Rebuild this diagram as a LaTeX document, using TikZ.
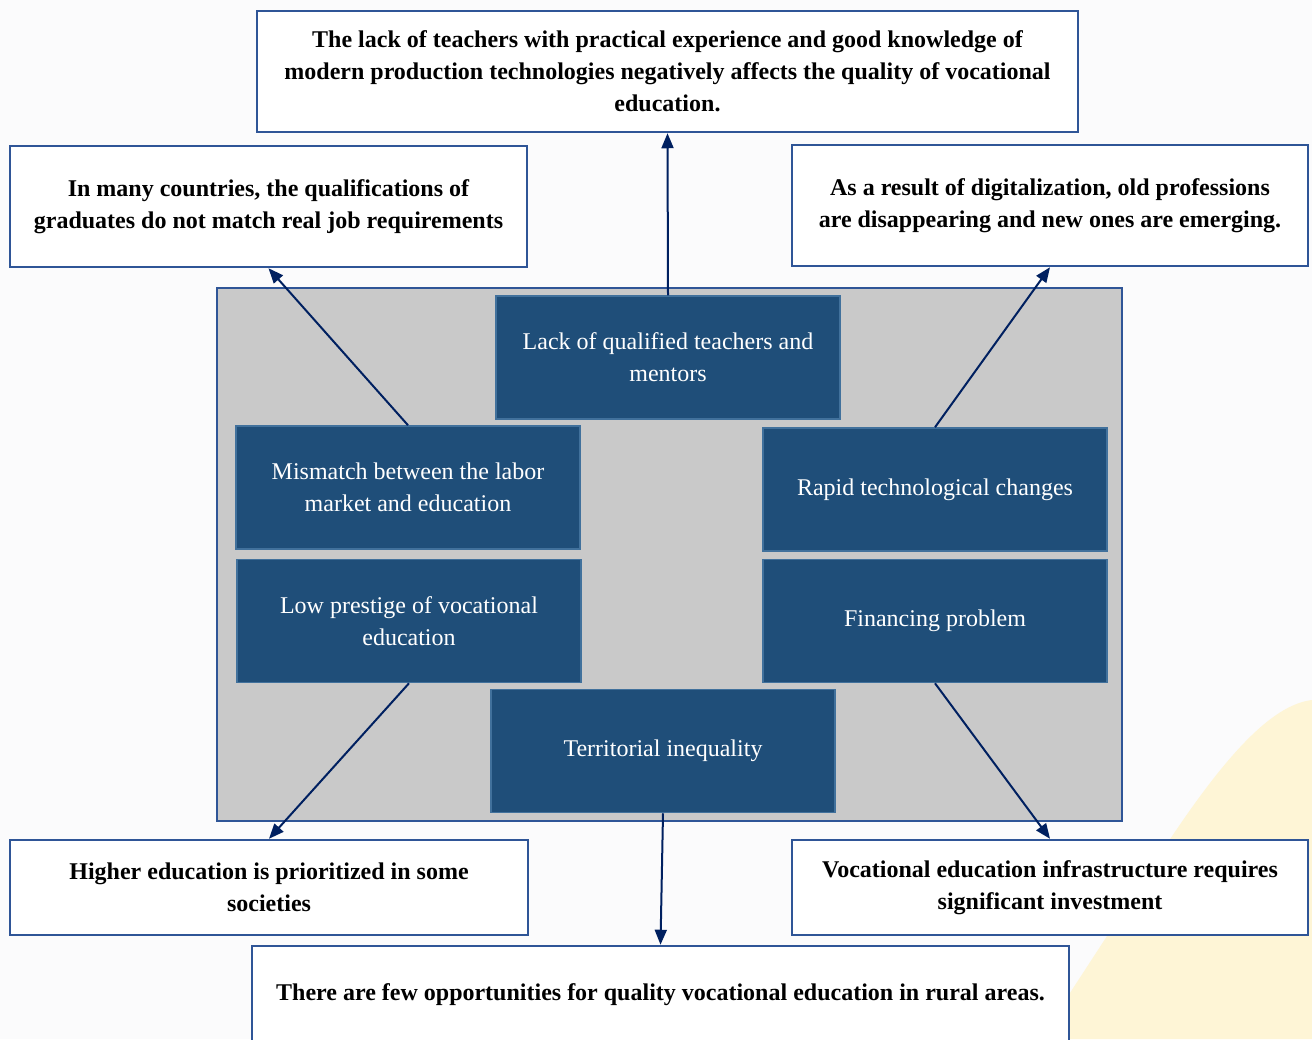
\documentclass[tikz,border=0pt]{standalone}
\usepackage{fontspec}
\setmainfont{Liberation Serif}
\usepackage{xcolor}
\usetikzlibrary{arrows.meta}

\definecolor{boxline}{RGB}{47,85,151}
\definecolor{causefill}{RGB}{31,78,121}
\definecolor{causeline}{RGB}{65,113,156}
\definecolor{panelgray}{RGB}{201,201,201}
\definecolor{arrownavy}{RGB}{0,32,96}
\definecolor{paper}{RGB}{251,251,252}
\definecolor{paleyellow}{RGB}{254,245,214}

\tikzset{
    effectbox/.style={draw=boxline, line width=2.5pt, fill=white, align=center, inner sep=0pt,
        font=\bfseries\fontsize{24}{32}\selectfont},
    causebox/.style={draw=causeline, line width=1.5pt, fill=causefill, text=white, align=center,
        inner sep=0pt, minimum width=344pt, minimum height=123pt, font=\fontsize{24}{32}\selectfont},
    link/.style={arrownavy, line width=2pt, -{Triangle[length=15pt,width=12pt]}}
}

\begin{document}
\begin{tikzpicture}[x=1pt, y=-1pt]
        % Page
        \useasboundingbox (0,0) rectangle (1312,1039);
        \clip (0,0) rectangle (1312,1039);
        \fill[paper] (0,0) rectangle (1312,1039);
        \fill[paleyellow] (1040,1039) -- (1150,870) .. controls (1220,760) and (1270,705) .. (1312,700) -- (1312,1039) -- cycle;

        % Central panel
        \node[draw=boxline, line width=2pt, fill=panelgray, minimum width=905pt, minimum height=533pt] (panel) at (669.5,554.5) {};

        % Causes
        \node[causebox] (teachers) at (668,357.5) {Lack of qualified teachers and\\mentors};
        \node[causebox] (mismatch) at (408,487.5) {Mismatch between the labor\\market and education};
        \node[causebox] (rapid) at (935,489.5) {Rapid technological changes};
        \node[causebox] (prestige) at (409,621) {Low prestige of vocational\\education};
        \node[causebox] (financing) at (935,621) {Financing problem};
        \node[causebox] (territory) at (663,751) {Territorial inequality};

        % Effects
        \node[effectbox, minimum width=821pt, minimum height=121pt] (practice) at (667.5,71.5)
            {The lack of teachers with practical experience and good knowledge of\\modern production technologies negatively affects the quality of vocational\\education.};
        \node[effectbox, minimum width=517pt, minimum height=121pt] (graduates) at (268.5,206.5)
            {In many countries, the qualifications of\\graduates do not match real job requirements};
        \node[effectbox, minimum width=516pt, minimum height=121pt] (digital) at (1050,205.5)
            {As a result of digitalization, old professions\\are disappearing and new ones are emerging.};
        \node[effectbox, minimum width=518pt, minimum height=95pt] (higher) at (269,887.5)
            {Higher education is prioritized in some\\societies};
        \node[effectbox, minimum width=516pt, minimum height=95pt] (infra) at (1050,887.5)
            {Vocational education infrastructure requires\\significant investment};
        \node[effectbox, minimum width=817pt, minimum height=98pt] (rural) at (660.5,995)
            {There are few opportunities for quality vocational education in rural areas.};

        % Connections
        \draw[link] (teachers.north) -- (practice.south);
        \draw[link] (mismatch.north) -- (graduates.south);
        \draw[link] (rapid.north) -- (digital.south);
        \draw[link] (prestige.south) -- (higher.north);
        \draw[link] (financing.south) -- (infra.north);
        \draw[link] (territory.south) -- (rural.north);
    \end{tikzpicture}
\end{document}
